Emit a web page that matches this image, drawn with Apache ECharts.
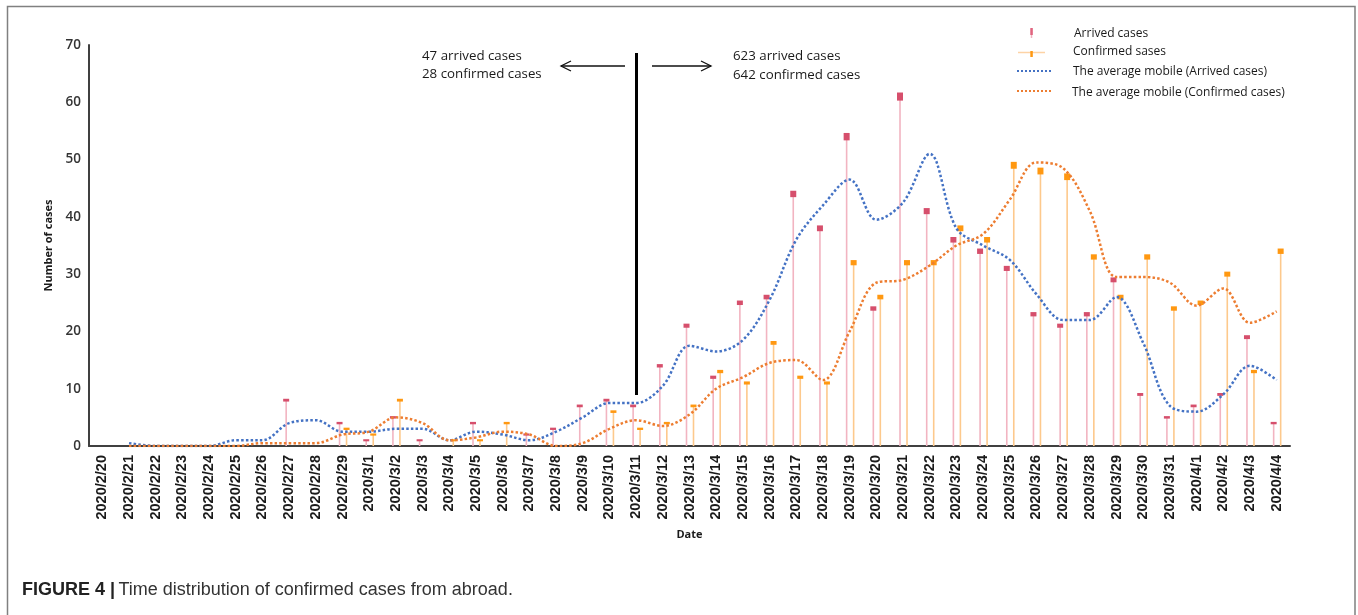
<!DOCTYPE html>
<html>
<head>
<meta charset="utf-8">
<style>html,body{margin:0;padding:0;background:#fff}#c{width:1358px;height:615px}</style>
<script src="https://cdn.jsdelivr.net/npm/echarts@6/dist/echarts.min.js"></script>
</head>
<body>
<div id="c"></div>
<script>
const categories = ['2020/2/20','2020/2/21','2020/2/22','2020/2/23','2020/2/24','2020/2/25','2020/2/26','2020/2/27','2020/2/28','2020/2/29',
  '2020/3/1','2020/3/2','2020/3/3','2020/3/4','2020/3/5','2020/3/6','2020/3/7','2020/3/8','2020/3/9','2020/3/10',
  '2020/3/11','2020/3/12','2020/3/13','2020/3/14','2020/3/15','2020/3/16','2020/3/17','2020/3/18','2020/3/19','2020/3/20',
  '2020/3/21','2020/3/22','2020/3/23','2020/3/24','2020/3/25','2020/3/26','2020/3/27','2020/3/28','2020/3/29','2020/3/30',
  '2020/3/31','2020/4/1','2020/4/2','2020/4/3','2020/4/4'];
const arrivedCases = [0,0,0,0,0,0,0,8,0,4, 1,5,1,0,4,0,2,3,7,8, 7,14,21,12,25,26,44,38,54,24, 61,41,36,34,31,23,21,23,29,9, 5,7,9,19,4];
const confirmedCases = [0,0,0,0,0,0,0,0,0,3, 2,8,0,1,1,4,0,0,0,6, 3,4,7,13,11,18,12,11,32,26, 32,32,38,36,49,48,47,33,26,33, 24,25,30,13,34];
const avgArrived = ['-',0.5,0,0,0,1,1,4,4.5,2.5, 2.5,3,3,1,2.5,2,1,2.5,5,7.5, 7.5,10.5,17.5,16.5,18.5,25.5,36,42,46.5,39.5, 42.5,51,38,35,32.5,26.5,22,22,26,18, 7,6,9,14,11.5];
const avgConfirmed = ['-',0,0,0,0,0,0.5,0.5,0.5,2, 2.5,5,4,1,1.5,2.5,2,0,0.5,3, 4.5,3.5,5.5,10,12,14.5,15,11.5,20,28.5, 29,31.5,35,37,43,49.5,48.5,41,29.5,29.5, 28.5,24.5,27.5,21.5,23.5];
const yTicks = {min: 0, max: 70, interval: 10};
const splitDate = '2020/3/11';

const chart = echarts.init(document.getElementById('c'), null, {renderer: 'canvas'});

function stemRender(offset, stemColor, capColor) {
  return function (params, api) {
    const v = api.value(1);
    if (!v) return null;
    const base = api.coord([api.value(0), 0]);
    const top = api.coord([api.value(0), v]);
    const x = base[0] + offset;
    const h = 2 + v * 0.1;
    const w = 6;
    return {
      type: 'group',
      children: [
        {type: 'line', shape: {x1: x, y1: base[1], x2: x, y2: top[1]}, style: {stroke: stemColor, lineWidth: 1.6}},
        {type: 'rect', shape: {x: x - w / 2, y: top[1] - h / 2, width: w, height: h}, style: {fill: capColor}}
      ]
    };
  };
}

const FONT = 'Open Sans';

const option = {
  animation: false,
  backgroundColor: '#fff',
  grid: {left: 89, right: 68, top: 45, bottom: 169},
  xAxis: {
    type: 'category',
    data: categories,
    boundaryGap: true,
    axisLine: {lineStyle: {color: '#404040', width: 2}},
    axisTick: {show: false},
    axisLabel: {interval: 0, rotate: 90, margin: 9, fontSize: 14.5, fontWeight: 'bold', color: '#1a1a1a', fontFamily: 'Liberation Sans'},
    name: 'Date',
    nameLocation: 'middle',
    nameGap: 83,
    nameTextStyle: {fontSize: 11, fontWeight: 'bold', color: '#1a1a1a', fontFamily: FONT}
  },
  yAxis: {
    type: 'value',
    min: yTicks.min, max: yTicks.max, interval: yTicks.interval,
    axisLine: {show: true, lineStyle: {color: '#404040', width: 2}},
    axisTick: {show: false},
    splitLine: {show: false},
    axisLabel: {margin: 8, fontSize: 13.5, fontWeight: 600, color: '#333', fontFamily: FONT},
    name: 'Number of cases',
    nameLocation: 'middle',
    nameRotate: 90,
    nameGap: 31,
    nameTextStyle: {fontSize: 11, fontWeight: 'bold', color: '#1a1a1a', fontFamily: FONT}
  },
  series: [
    {
      name: 'Arrived cases', type: 'custom', z: 2,
      renderItem: stemRender(-3, '#f2b4c1', '#d64f6c'),
      data: arrivedCases.map((v, i) => [i, v])
    },
    {
      name: 'Confirmed sases', type: 'custom', z: 2,
      renderItem: stemRender(4, '#fdc98c', '#ff9811'),
      data: confirmedCases.map((v, i) => [i, v])
    },
    {
      name: 'The average mobile (Arrived cases)', type: 'line', z: 3,
      data: avgArrived, smooth: 0.35, symbol: 'none',
      lineStyle: {color: '#4472c4', width: 2.5, type: [2.5, 2.2]},
      markLine: {
        silent: true, symbol: 'none', label: {show: false},
        lineStyle: {color: '#000', width: 3, type: 'solid'},
        data: [[{coord: [splitDate, 8.9]}, {coord: [splitDate, 68.6]}]]
      }
    },
    {
      name: 'The average mobile (Confirmed cases)', type: 'line', z: 3,
      data: avgConfirmed, smooth: 0.35, symbol: 'none',
      lineStyle: {color: '#ed7d31', width: 2.5, type: [2.5, 2.2]}
    }
  ],
  graphic: [
    {type: 'rect', silent: true, shape: {x: 7.5, y: 6.5, width: 1347.5, height: 640}, style: {fill: 'none', stroke: '#808080', lineWidth: 1.5}},
    // annotations
    {type: 'text', left: 422, top: 50, style: {text: '47 arrived cases', font: '13.3px "Open Sans"', fill: '#1a1a1a'}},
    {type: 'text', left: 422, top: 68, style: {text: '28 confirmed cases', font: '13.3px "Open Sans"', fill: '#1a1a1a'}},
    {type: 'text', left: 733, top: 50, style: {text: '623 arrived cases', font: '13.3px "Open Sans"', fill: '#1a1a1a'}},
    {type: 'text', left: 733, top: 69, style: {text: '642 confirmed cases', font: '13.3px "Open Sans"', fill: '#1a1a1a'}},
    {type: 'polyline', shape: {points: [[561, 66], [625, 66]]}, style: {stroke: '#111', lineWidth: 1.3}},
    {type: 'polyline', shape: {points: [[571, 61], [561, 66], [571, 71]]}, style: {stroke: '#111', lineWidth: 1.3, fill: 'none'}},
    {type: 'polyline', shape: {points: [[652, 66], [711, 66]]}, style: {stroke: '#111', lineWidth: 1.3}},
    {type: 'polyline', shape: {points: [[701, 61], [711, 66], [701, 71]]}, style: {stroke: '#111', lineWidth: 1.3, fill: 'none'}},
    // legend
    {type: 'line', shape: {x1: 1031.5, y1: 29, x2: 1031.5, y2: 38}, style: {stroke: '#f2b4c1', lineWidth: 1.5}},
    {type: 'rect', shape: {x: 1030.3, y: 28, width: 2.5, height: 7}, style: {fill: '#e0647f'}},
    {type: 'line', shape: {x1: 1018, y1: 52.5, x2: 1045, y2: 52.5}, style: {stroke: '#fdd3a5', lineWidth: 1.5}},
    {type: 'rect', shape: {x: 1030.3, y: 51, width: 2.5, height: 6}, style: {fill: '#ff9811'}},
    {type: 'line', shape: {x1: 1017, y1: 71, x2: 1052, y2: 71}, style: {stroke: '#4472c4', lineWidth: 2, lineDash: [2, 2]}},
    {type: 'line', shape: {x1: 1017, y1: 91, x2: 1052, y2: 91}, style: {stroke: '#ed7d31', lineWidth: 2, lineDash: [2, 2]}},
    {type: 'text', left: 1074, top: 28, style: {text: 'Arrived cases', font: '12px "Open Sans"', fill: '#1a1a1a'}},
    {type: 'text', left: 1073, top: 46, style: {text: 'Confirmed sases', font: '12px "Open Sans"', fill: '#1a1a1a'}},
    {type: 'text', left: 1073, top: 66, style: {text: 'The average mobile (Arrived cases)', font: '12px "Open Sans"', fill: '#1a1a1a'}},
    {type: 'text', left: 1072, top: 87, style: {text: 'The average mobile (Confirmed cases)', font: '12px "Open Sans"', fill: '#1a1a1a'}},
    // caption
    {type: 'text', left: 22, top: 581, style: {
      text: '{b|FIGURE 4 |} {r|Time distribution of confirmed cases from abroad.}',
      rich: {
        b: {fontFamily: 'Liberation Sans', fontWeight: 'bold', fontSize: 18, fill: '#222'},
        r: {fontFamily: 'Liberation Sans', fontSize: 18, fill: '#333'}
      }
    }}
  ]
};
chart.setOption(option);
</script>
</body>
</html>
